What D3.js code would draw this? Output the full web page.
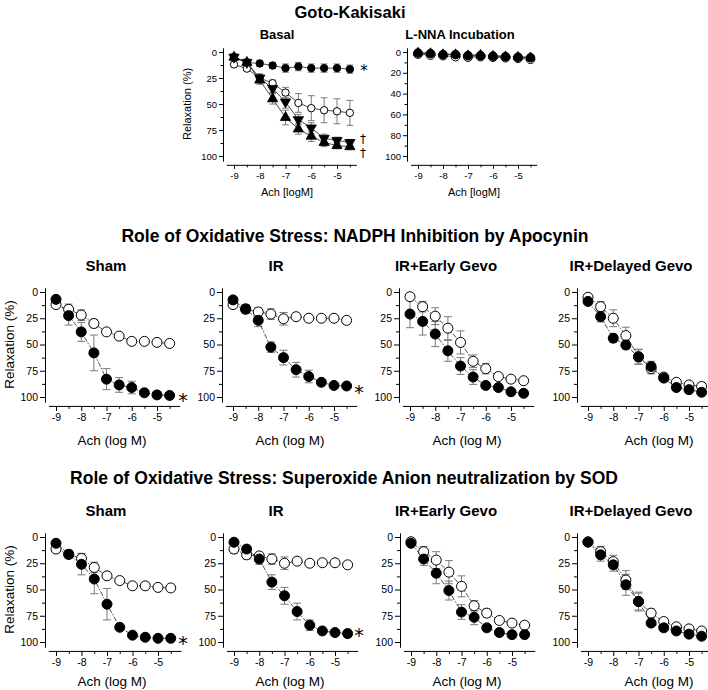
<!DOCTYPE html>
<html>
<head>
<meta charset="utf-8">
<script src="https://cdn.jsdelivr.net/npm/d3@7"></script>
<style>
    body { margin: 0; background: #fff; }
    svg { display: block; font-family: Arial, "Liberation Sans", sans-serif; }
</style>
</head>
<body>
<svg id="chart" width="708" height="690"></svg>
<script>
/***************************************************************
    Data
****************************************************************/
const conc = [-9, -8.5, -8, -7.5, -7, -6.5, -6, -5.5, -5, -4.5];
const xTicks = [-9, -8, -7, -6, -5];
const xMinorTicks = [-8.5, -7.5, -6.5, -5.5, -4.5];
const xTickLabels = ["-9", "-8", "-7", "-6", "-5"];
const yTicks = [0, 25, 50, 75, 100];
const yMinorTicks = [12.5, 37.5, 62.5, 87.5];
const yTickLabels = ["0", "25", "50", "75", "100"];
const lnnaTicks = [0, 20, 40, 60, 80, 100];
const lnnaMinorTicks = [10, 30, 50, 70, 90];
const lnnaTickLabels = ["0", "20", "40", "60", "80", "100"];

// Goto-Kakisaki, Basal
const basalFilled = [5, 10, 11, 13, 15.5, 14, 15.5, 15.5, 15.5, 16.5];
const basalFilledErr = [3, 3, 3, 3, 4, 4, 4, 4, 4, 4];
const basalOpen = [12, 16, 25, 30, 39, 49, 54, 56, 57, 58.5];
const basalOpenErr = [2, 2, 3, 3, 5, 9, 12, 12, 12, 12];
const basalDown = [5, 10, 25, 35, 48, 65, 73, 83, 85, 87];
const basalDownErr = [3, 3, 4, 4, 6, 5, 5, 4, 3, 3];
const basalUp = [5, 10, 27, 45, 63, 74, 81, 87, 90, 91];
const basalUpErr = [3, 3, 4, 5, 7, 5, 5, 4, 3, 3];

// Goto-Kakisaki, L-NNA incubation
const lnnaFilled = [1, 1.5, 2.5, 2.5, 3.5, 3.5, 4, 4.5, 5, 5.5];
const lnnaOpen = [2, 3, 3.5, 4.5, 5, 4.5, 5, 5.5, 6, 7];
const lnnaUp = [0.5, 1, 2, 2, 3, 2.5, 3.5, 4, 4.5, 5];
const lnnaErr = [2, 2, 2, 2, 2, 2, 2, 2, 2, 2];

// Apocynin
const apoShamFilled = [7, 22.5, 38, 58, 83, 88.5, 91, 96, 98, 98.5];
const apoShamFilledErr = [2, 9, 9, 17, 10, 7, 6, 2, 1, 1];
const apoShamOpen = [12, 16.5, 22, 30, 38, 42, 47, 47, 48, 49];
const apoShamOpenErr = [3, 5, 5, 4, 2, 2, 2, 2, 2, 2];
const apoIRFilled = [7.5, 16, 27, 52.5, 62.5, 74, 80.5, 86, 89, 89.5];
const apoIRFilledErr = [2, 4, 6, 5, 7, 7, 6, 2, 2, 2];
const apoIROpen = [12, 16.5, 19, 21, 25.5, 23.5, 25, 25, 25, 27];
const apoIROpenErr = [3, 4, 4, 5, 6, 2, 2, 2, 2, 2];
const apoEarlyFilled = [21, 28, 40, 56, 70.5, 81, 89, 91, 95, 96.5];
const apoEarlyFilledErr = [13, 13, 12, 10, 8, 7, 2, 2, 2, 2];
const apoEarlyOpen = [4.5, 14, 23, 34.5, 48, 66, 73, 80.5, 83, 84.5];
const apoEarlyOpenErr = [3, 5, 8, 11, 11, 6, 5, 2, 2, 2];
const apoDelayedFilled = [9, 23.5, 44, 50.5, 62, 71, 82, 91, 93, 95.5];
const apoDelayedFilledErr = [2, 5, 4, 4, 7, 5, 3, 2, 2, 2];
const apoDelayedOpen = [5, 14, 25, 41.5, 61.5, 73, 81, 86, 88.5, 90];
const apoDelayedOpenErr = [2, 5, 8, 8, 7, 5, 3, 2, 2, 2];

// SOD
const sodShamFilled = [6, 16.5, 26, 40, 64, 86, 93.5, 95.5, 96.5, 96.5];
const sodShamFilledErr = [2, 4, 10, 14, 15, 2, 2, 2, 1, 1];
const sodShamOpen = [11.5, 16.5, 20.5, 29, 37, 41.5, 46.5, 46.5, 48, 48.5];
const sodShamOpenErr = [3, 3, 5, 5, 2, 2, 2, 2, 2, 2];
const sodIRFilled = [5, 11.5, 21, 43, 56, 71, 84, 89.5, 91, 92];
const sodIRFilledErr = [2, 2, 5, 7, 8, 8, 5, 2, 2, 2];
const sodIROpen = [11.5, 17, 18, 21, 25, 23, 25, 24.5, 24.5, 26.5];
const sodIROpenErr = [4, 4, 3, 5, 6, 2, 2, 2, 2, 2];
const sodEarlyFilled = [6, 21, 34.5, 51, 71.5, 76.5, 86.5, 91, 93, 93];
const sodEarlyFilledErr = [2, 6, 10, 9, 7, 7, 2, 2, 2, 2];
const sodEarlyOpen = [4.5, 14, 22, 33.5, 47, 65.5, 72.5, 79.5, 82, 84];
const sodEarlyOpenErr = [2, 5, 8, 11, 10, 5, 4, 2, 2, 2];
const sodDelayedFilled = [5, 17, 26.5, 45.5, 61.5, 82, 86.5, 89.5, 92.5, 94.5];
const sodDelayedFilledErr = [2, 6, 6, 10, 9, 2, 2, 2, 2, 2];
const sodDelayedOpen = [4.5, 14, 23.5, 41, 61.5, 72.5, 80.5, 85.5, 87.5, 89.5];
const sodDelayedOpenErr = [2, 5, 6, 9, 8, 4, 3, 2, 2, 2];

/***************************************************************
    Layout
****************************************************************/
const svg = d3.select("#chart");
const dashDot = "5,1.5,1.5,1.5";

const topCfg = { y0: 52, y100: 156, xMax: -4.25, r: 3.7, tri: 46, tickFont: 9.5,
    tickLen: 4, minorLen: 2.5, labelFont: 11 };
const rowCfg = { xMax: -4.1, r: 5, tickFont: 10.5, tickLen: 5, minorLen: 3, labelFont: 13.5 };

/***************************************************************
    Drawing
****************************************************************/
function series(values, errors, shape, fill, dash) {
    return { values: values, errors: errors, shape: shape, fill: fill, dash: dash };
}

function drawPanel(p) {
    let g = svg.append("g");
    let k = (p.y100 - p.y0) / 100;
    let x = d3.scaleLinear()
        .domain([-9.3, p.xMax])
        .range([p.axisX + 11 - 0.3 * p.unit, p.axisX + 11 + (p.xMax + 9) * p.unit]);
    let y = d3.scaleLinear().domain([-4, 105]).range([p.y0 - 4 * k, p.y0 + 105 * k]);
    let xAxisY = p.y0 + 108.5 * k;

    // y axis
    let yLabels = p.yLabels;
    let ya = g.append("g").attr("transform", `translate(${p.axisX},0)`)
        .call(d3.axisLeft(y).tickValues(p.yTicks).tickFormat((d, i) => yLabels[i])
            .tickSize(p.tickLen).tickPadding(2).tickSizeOuter(0));
    g.append("g").attr("transform", `translate(${p.axisX},0)`)
        .call(d3.axisLeft(y).tickValues(p.yMinor).tickFormat("").tickSize(p.minorLen))
        .select(".domain").remove();
    ya.selectAll("text").attr("font-size", p.tickFont).attr("font-family", "Arial, 'Liberation Sans', sans-serif");

    // x axis
    let xa = g.append("g").attr("transform", `translate(0,${xAxisY})`)
        .call(d3.axisBottom(x).tickValues(xTicks).tickFormat((d, i) => xTickLabels[i])
            .tickSize(p.tickLen).tickPadding(3).tickSizeOuter(0));
    g.append("g").attr("transform", `translate(0,${xAxisY})`)
        .call(d3.axisBottom(x).tickValues(xMinorTicks).tickFormat("").tickSize(p.minorLen))
        .select(".domain").remove();
    xa.selectAll("text").attr("font-size", p.tickFont).attr("font-family", "Arial, 'Liberation Sans', sans-serif");

    // error bars
    let cap = p.r + 1;
    p.series.forEach(s => {
        let eb = g.append("g").attr("stroke", "#7a7a7a").attr("stroke-width", 1);
        s.values.forEach((v, i) => {
            let e = s.errors[i];
            let cx = x(conc[i]);
            eb.append("line").attr("x1", cx).attr("x2", cx).attr("y1", y(v - e)).attr("y2", y(v + e));
            eb.append("line").attr("x1", cx - cap / 2 - 1).attr("x2", cx + cap / 2 + 1).attr("y1", y(v - e)).attr("y2", y(v - e));
            eb.append("line").attr("x1", cx - cap / 2 - 1).attr("x2", cx + cap / 2 + 1).attr("y1", y(v + e)).attr("y2", y(v + e));
        });
    });

    // connecting lines
    let line = d3.line().x((d, i) => x(conc[i])).y(d => y(d));
    p.series.forEach(s => {
        g.append("path").attr("d", line(s.values))
            .attr("fill", "none").attr("stroke", "#222").attr("stroke-width", 0.8)
            .attr("stroke-dasharray", s.dash ? s.dash : null);
    });

    // markers
    p.series.forEach(s => {
        let mg = g.append("g");
        s.values.forEach((v, i) => {
            if (s.shape === "circle") {
                mg.append("circle").attr("cx", x(conc[i])).attr("cy", y(v)).attr("r", s.r || p.r)
                    .attr("fill", s.fill).attr("stroke", "#000").attr("stroke-width", 1);
            } else {
                let rot = s.shape === "down" ? 180 : 0;
                mg.append("path").attr("d", d3.symbol().type(d3.symbolTriangle).size(s.tri || p.tri)())
                    .attr("transform", `translate(${x(conc[i])},${y(v)}) rotate(${rot})`)
                    .attr("fill", s.fill).attr("stroke", "#000").attr("stroke-width", 0.8);
            }
        });
    });

    // titles
    g.append("text").attr("x", p.titleX).attr("y", p.titleY).attr("text-anchor", "middle")
        .attr("font-size", p.titleFont).attr("font-weight", "bold").text(p.title);
    g.append("text").attr("x", p.xLabelX).attr("y", p.xLabelY).attr("text-anchor", "middle")
        .attr("font-size", p.labelFont).text(p.xLabel);
    if (p.yLabel) {
        g.append("text").attr("transform", `translate(${p.yLabelX},${(p.y0 + p.y100) / 2}) rotate(-90)`)
            .attr("text-anchor", "middle").attr("font-size", p.labelFont).text(p.yLabel);
    }
    (p.marks || []).forEach(m => {
        g.append("text").attr("x", m.x).attr("y", m.y).attr("font-size", m.size)
            .attr("font-family", "'DejaVu Sans', sans-serif").attr("fill", "#000")
            .attr("text-anchor", "middle").text(m.text);
    });
}

function rowTitle(text, x, y) {
    svg.append("text").attr("x", x).attr("y", y).attr("text-anchor", "middle")
        .attr("font-size", 17.5).attr("font-weight", "bold").text(text);
}

/***************************************************************
    Panels
****************************************************************/
svg.append("text").attr("x", 350).attr("y", 18).attr("text-anchor", "middle")
    .attr("font-size", 16.5).attr("font-weight", "bold").text("Goto-Kakisaki");

drawPanel(Object.assign({}, topCfg, {
    axisX: 223, unit: 25.75, yTicks: yTicks, yMinor: yMinorTicks, yLabels: yTickLabels,
    title: "Basal", titleX: 277, titleY: 39, titleFont: 13,
    xLabel: "Ach [logM]", xLabelX: 287, xLabelY: 196, yLabel: "Relaxation (%)", yLabelX: 191,
    series: [
        series(basalOpen, basalOpenErr, "circle", "#fff"),
        series(basalFilled, basalFilledErr, "circle", "#000"),
        series(basalDown, basalDownErr, "down", "#000"),
        series(basalUp, basalUpErr, "up", "#000")
    ],
    marks: [{ x: 364, y: 76, size: 15, text: "*" }, { x: 363, y: 143, size: 12, text: "\u2020" },
        { x: 363, y: 157, size: 12, text: "\u2020" }]
}));

drawPanel(Object.assign({}, topCfg, {
    axisX: 407, unit: 25, yTicks: lnnaTicks, yMinor: lnnaMinorTicks, yLabels: lnnaTickLabels,
    title: "L-NNA Incubation", titleX: 460, titleY: 39, titleFont: 13,
    xLabel: "Ach [logM]", xLabelX: 474, xLabelY: 196,
    series: [
        Object.assign(series(lnnaOpen, lnnaErr, "circle", "#fff", "3,2"), { r: 4.3 }),
        Object.assign(series(lnnaUp, lnnaErr, "up", "#000", "3,2"), { tri: 36 }),
        Object.assign(series(lnnaFilled, lnnaErr, "circle", "#000", "3,2"), { r: 4.3 })
    ]
}));

rowTitle("Role of Oxidative Stress: NADPH Inhibition by Apocynin", 355, 242);

const midPanels = [
    { axisX: 45, unit: 25.25, title: "Sham", titleX: 106, xLabelX: 112, yLabel: "Relaxation (%)",
      filled: [apoShamFilled, apoShamFilledErr], open: [apoShamOpen, apoShamOpenErr],
      marks: [{ x: 183, y: 407, size: 19, text: "*" }] },
    { axisX: 222, unit: 25.25, title: "IR", titleX: 276, xLabelX: 290,
      filled: [apoIRFilled, apoIRFilledErr], open: [apoIROpen, apoIROpenErr],
      marks: [{ x: 359, y: 399, size: 19, text: "*" }] },
    { axisX: 399, unit: 25.25, title: "IR+Early Gevo", titleX: 446, xLabelX: 467,
      filled: [apoEarlyFilled, apoEarlyFilledErr], open: [apoEarlyOpen, apoEarlyOpenErr] },
    { axisX: 577, unit: 25.25, title: "IR+Delayed Gevo", titleX: 631, xLabelX: 659,
      filled: [apoDelayedFilled, apoDelayedFilledErr], open: [apoDelayedOpen, apoDelayedOpenErr] }
];

const sodPanels = [
    { axisX: 45, unit: 25.5, title: "Sham", titleX: 106, xLabelX: 112, yLabel: "Relaxation (%)",
      filled: [sodShamFilled, sodShamFilledErr], open: [sodShamOpen, sodShamOpenErr],
      marks: [{ x: 183, y: 650, size: 19, text: "*" }] },
    { axisX: 223, unit: 25.25, title: "IR", titleX: 276, xLabelX: 290,
      filled: [sodIRFilled, sodIRFilledErr], open: [sodIROpen, sodIROpenErr],
      marks: [{ x: 359, y: 642, size: 19, text: "*" }] },
    { axisX: 400, unit: 25.25, title: "IR+Early Gevo", titleX: 446, xLabelX: 467,
      filled: [sodEarlyFilled, sodEarlyFilledErr], open: [sodEarlyOpen, sodEarlyOpenErr] },
    { axisX: 577, unit: 25.25, title: "IR+Delayed Gevo", titleX: 631, xLabelX: 659,
      filled: [sodDelayedFilled, sodDelayedFilledErr], open: [sodDelayedOpen, sodDelayedOpenErr] }
];

function drawRow(panels, y0, titleY, xLabelY) {
    panels.forEach(pp => {
        drawPanel(Object.assign({}, rowCfg, pp, {
            y0: y0, y100: y0 + 105, yTicks: yTicks, yMinor: yMinorTicks, yLabels: yTickLabels,
            titleY: titleY, titleFont: 15, xLabel: "Ach (log M)", xLabelY: xLabelY, yLabelX: 14,
            series: [
                series(pp.open[0], pp.open[1], "circle", "#fff", dashDot),
                series(pp.filled[0], pp.filled[1], "circle", "#000", dashDot)
            ]
        }));
    });
}

drawRow(midPanels, 292, 271, 445);
rowTitle("Role of Oxidative Stress: Superoxide Anion neutralization by SOD", 344, 484);
drawRow(sodPanels, 537, 516, 686);
</script>
</body>
</html>
